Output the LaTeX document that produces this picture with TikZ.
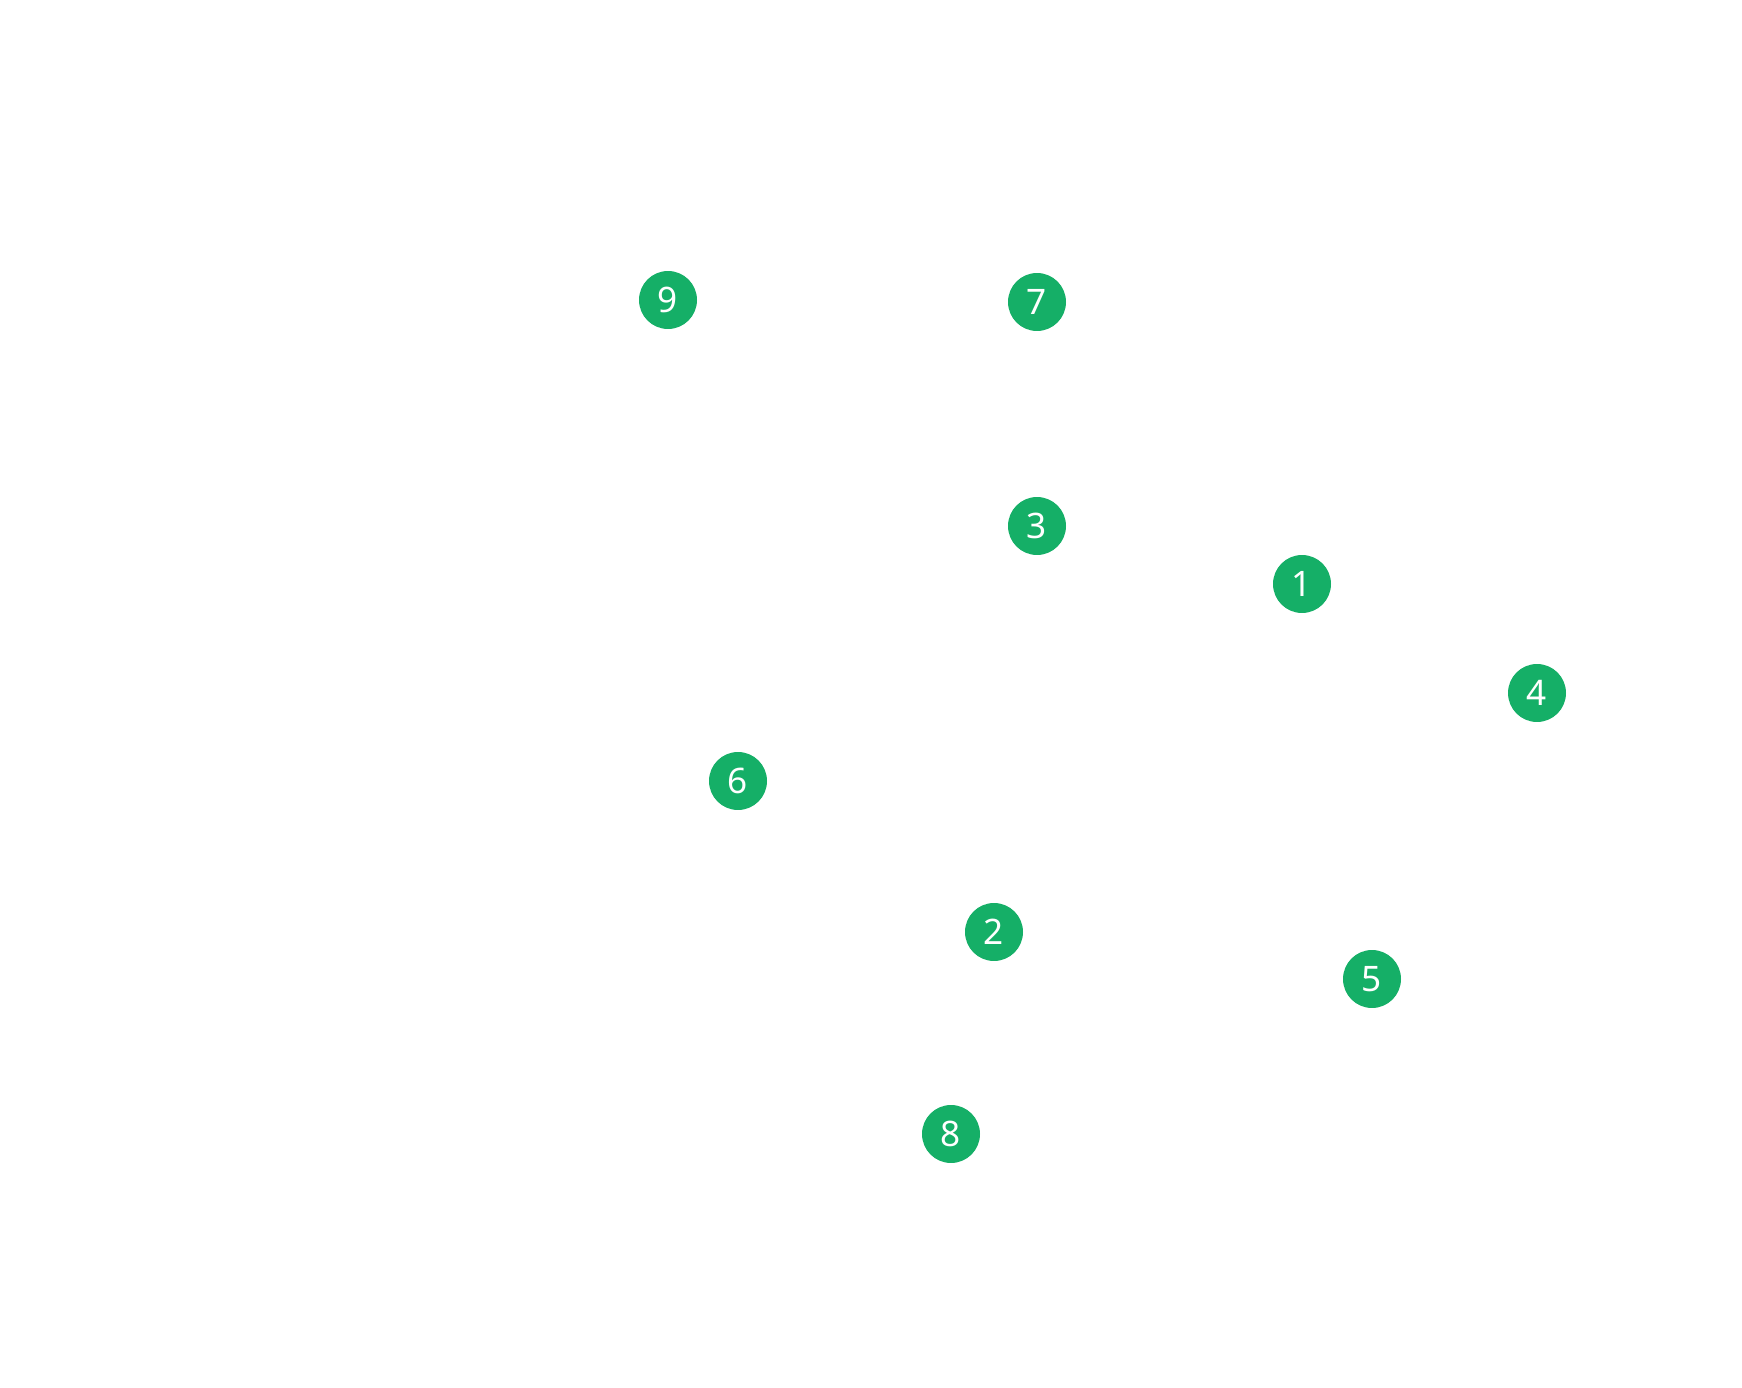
\documentclass[tikz,border=0pt]{standalone}
\usepackage{fontspec}
\setmainfont{Noto Sans}
\definecolor{dotgreen}{HTML}{15AF67}
\begin{document}
\begin{tikzpicture}[x=0.02cm,y=-0.02cm,
  dot/.style={circle,fill=dotgreen,text=white,minimum size=1.16cm,inner sep=0pt,font=\fontsize{20}{20}\selectfont}]
\useasboundingbox[fill=white] (0,0) rectangle (1742,1388);
\node[dot] (n9) at (668,300) {9};
\node[dot] (n7) at (1037,302) {7};
\node[dot] (n3) at (1037,526) {3};
\node[dot] (n1) at (1302,584) {1};
\node[dot] (n4) at (1537,693) {4};
\node[dot] (n6) at (738,781) {6};
\node[dot] (n2) at (994,932) {2};
\node[dot] (n5) at (1372,979) {5};
\node[dot] (n8) at (951,1134) {8};
\end{tikzpicture}
\end{document}
